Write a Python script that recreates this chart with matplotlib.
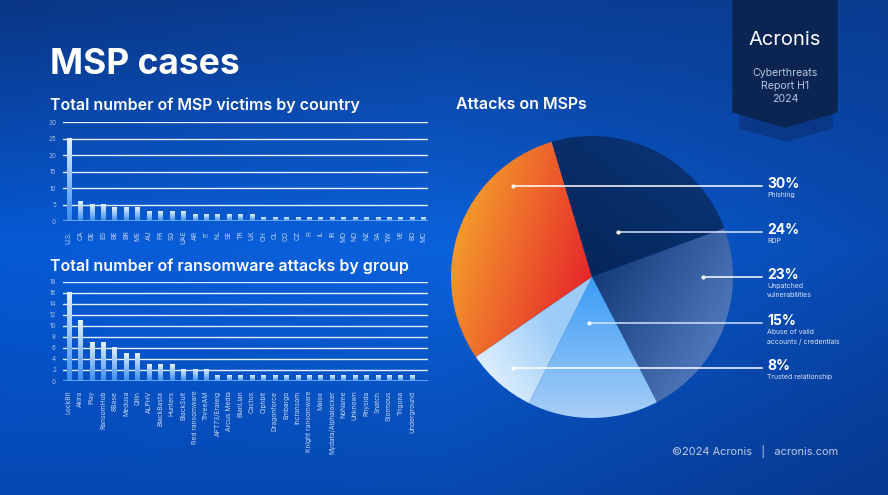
import numpy as np
import matplotlib
matplotlib.use("Agg")
import matplotlib.pyplot as plt
from matplotlib.colors import LinearSegmentedColormap, to_rgb
from matplotlib.patches import Polygon

plt.rcParams['font.family'] = ['Inter', 'DejaVu Sans']

# data
countries = ['U.S.', 'CA', 'DE', 'ES', 'BE', 'BR', 'ME', 'AU', 'FR', 'SG', 'UAE', 'AR', 'IT', 'NL',
             'SE', 'TR', 'UK', 'CH', 'CL', 'CO', 'CZ', 'FI', 'IL', 'IR', 'MO', 'NO', 'NZ', 'SA',
             'TW', 'VE', 'BO', 'MC']
victims = [25, 6, 5, 5, 4, 4, 4, 3, 3, 3, 3, 2, 2, 2, 2, 2, 2, 1, 1, 1, 1, 1, 1, 1, 1, 1, 1, 1,
           1, 1, 1, 1]

groups = ['LockBit', 'Akira', 'Play', 'RansomHub', '8Base', 'Medusa', 'Qilin', 'ALPHV',
          'BlackBasta', 'Hunters', 'BlackSuit', 'Red ransomware', 'ThreeAM', 'APT73/Eraleig',
          'Arcus Media', 'BianLian', 'Cactus', 'Ciphbit', 'Dragonforce', 'Embargo', 'Incransom',
          'Knight ransomware', 'Malox', 'Mydata/Alphalocker', 'NoName', 'Unknown', 'Rhysida',
          'Snatch', 'Stormous', 'Trigona', 'Underground']
attacks = [16, 11, 7, 7, 6, 5, 5, 3, 3, 3, 2, 2, 2, 1, 1, 1, 1, 1, 1, 1, 1, 1, 1, 1, 1, 1, 1,
           1, 1, 1, 1]

vectors = ['Phishing', 'RDP', 'Unpatched\nvulnerabilities', 'Abuse of valid\naccounts / credentials',
           'Trusted relationship']
shares = [30, 24, 23, 15, 8]

W, H = 888, 495
fig = plt.figure(figsize=(W / 100, H / 100), dpi=100)


def fx(x):
    return x / W


def fy(y):
    return 1 - y / H


# background gradient
bg = fig.add_axes([0, 0, 1, 1])
bg.set_axis_off()
grid = np.array([
    [to_rgb('#0a3684'), to_rgb('#0b3e94'), to_rgb('#0a3c90')],
    [to_rgb('#065ad6'), to_rgb('#0a62dc'), to_rgb('#084ab2')],
    [to_rgb('#0548b4'), to_rgb('#0749b0'), to_rgb('#07388e')],
])
yy, xx = np.mgrid[0:1:H * 1j, 0:1:W * 1j]
img = np.zeros((H, W, 3))
for c in range(3):
    g = grid[:, :, c]
    xi = xx * 2
    yi = yy * 2
    i0 = np.clip(np.floor(yi).astype(int), 0, 1)
    j0 = np.clip(np.floor(xi).astype(int), 0, 1)
    ty = yi - i0
    tx = xi - j0
    img[:, :, c] = (g[i0, j0] * (1 - tx) * (1 - ty) + g[i0, j0 + 1] * tx * (1 - ty)
                    + g[i0 + 1, j0] * (1 - tx) * ty + g[i0 + 1, j0 + 1] * tx * ty)
bg.imshow(img, extent=(0, W, H, 0), aspect='auto', zorder=0)
bg.set_xlim(0, W)
bg.set_ylim(H, 0)

# banner
bg.add_patch(Polygon([(740, 100), (832, 100), (832, 128), (786, 141), (740, 128)],
                     closed=True, color='#0a3786', zorder=1))
bg.add_patch(Polygon([(733, 0), (837, 0), (837, 112), (785, 127), (733, 112)],
                     closed=True, color='#0b2552', zorder=2))
fig.text(fx(785), fy(40), 'Acronis', color='white', fontsize=14.5, ha='center', va='center')
fig.text(fx(785), fy(86), 'Cyberthreats\nReport H1\n2024', color='#b8c6e4', fontsize=7.6,
         ha='center', va='center', linespacing=1.35)

# titles
fig.text(fx(50), fy(74), 'MSP cases', color='white', fontsize=25.5, fontweight='bold',
         ha='left', va='baseline')
fig.text(fx(50), fy(110), 'Total number of MSP victims by country', color='white',
         fontsize=11.5, fontweight='semibold', ha='left', va='baseline')
fig.text(fx(50), fy(271), 'Total number of ransomware attacks by group', color='white',
         fontsize=11.5, fontweight='semibold', ha='left', va='baseline')
fig.text(fx(456), fy(109), 'Attacks on MSPs', color='white', fontsize=11.5,
         fontweight='semibold', ha='left', va='baseline')
fig.text(fx(755), fy(452), '©2024 Acronis   |   acronis.com', color='#c0cce4', fontsize=7.9,
         ha='center', va='center')

bar_cmap = LinearSegmentedColormap.from_list('bar', ['#3a8cf0', '#8ec0fa', '#e4f0ff'])
grad = np.linspace(0, 1, 64).reshape(-1, 1)


def bar_panel(rect, labels, values, ymax, step):
    ax = fig.add_axes(rect)
    ax.set_facecolor('none')
    x = np.arange(len(values))
    bars = ax.bar(x, values, width=0.36, color='#5fa4f5', zorder=3)
    for b in bars:
        ax.imshow(grad, cmap=bar_cmap, origin='lower', aspect='auto', zorder=3,
                  extent=(b.get_x(), b.get_x() + b.get_width(), 0, b.get_height()))
    ax.set_xlim(-0.5, 31.4)
    ax.set_ylim(0, ymax)
    ax.set_yticks(np.arange(0, ymax + 1, step))
    for t in np.arange(step, ymax + 1, step):
        ax.axhline(t, color='white', lw=1.0, alpha=0.9, zorder=2)
    ax.axhline(0, color='#66a8f5', lw=1.4, zorder=4)
    ax.set_xticks(x)
    ax.set_xticklabels(labels, rotation=90, fontsize=4.8, color='#c8d6f0')
    ax.tick_params(axis='y', labelsize=4.6, labelcolor='#a9bfe6', length=0, pad=5)
    ax.tick_params(axis='x', length=0, pad=7)
    for s in ax.spines.values():
        s.set_visible(False)
    return ax


bar_panel([fx(63), fy(221), fx(428) - fx(63), fy(122.3) - fy(221)], countries, victims, 30, 5)
bar_panel([fx(63), fy(381), fx(428) - fx(63), fy(281.7) - fy(381)], groups, attacks, 18, 2)

# pie
cx, cy, r = 592, 277, 141
pax = fig.add_axes([fx(cx - r), fy(cy + r), fx(2 * r), (2 * r) / H])
wedges, _ = pax.pie(shares, startangle=214.6, counterclock=False, radius=1,
                    wedgeprops=dict(linewidth=0))

styles = [
    ((-1.0, 0.2), '#f49b2c', (0.0, -0.1), '#e5232a'),
    ((0.0, 0.0), '#05265a', (0.6, 0.8), '#0a3272'),
    ((0.0, 0.0), '#153a78', (0.9, -0.5), '#5079bd'),
    ((0.0, 0.0), '#3a9cf6', (0.0, -1.0), '#a8cef7'),
    ((-0.3, -0.3), '#9ccbf7', (-0.9, -0.7), '#eaf7ff'),
]
gy, gx = np.mgrid[1:-1:300j, -1:1:300j]
for w, (p0, c0, p1, c1) in zip(wedges, styles):
    d = np.array(p1) - np.array(p0)
    t = ((gx - p0[0]) * d[0] + (gy - p0[1]) * d[1]) / (d @ d)
    t = np.clip(t, 0, 1)[..., None]
    im = (1 - t) * np.array(to_rgb(c0)) + t * np.array(to_rgb(c1))
    w.set_facecolor('none')
    art = pax.imshow(im, extent=(-1, 1, -1, 1), zorder=1)
    art.set_clip_path(w)
pax.set_xlim(-1, 1)
pax.set_ylim(-1, 1)
pax.set_aspect('auto')
pax.set_axis_off()

# leader lines and labels on an overlay
ov = fig.add_axes([0, 0, 1, 1])
ov.set_axis_off()
ov.set_facecolor('none')
ov.set_xlim(0, W)
ov.set_ylim(H, 0)
line_y = [186, 231.7, 277, 323, 368]
line_x0 = [513, 618, 703, 589, 513]
line_c = ['white', '#d8e6fa', 'white', '#d0e2fa', 'white']
for i, (v, lab) in enumerate(zip(shares, vectors)):
    y = line_y[i]
    ov.plot([line_x0[i], 762], [y, y], color=line_c[i], lw=1.1, zorder=5)
    ov.plot([line_x0[i]], [y], 'o', color='white', ms=2, zorder=5)
    fig.text(fx(767), fy(y - 2), f'{v}%', color='white', fontsize=10, fontweight='bold',
             ha='left', va='center')
    fig.text(fx(767), fy(y + 6), lab, color='#d8e2f4', fontsize=5.0, ha='left', va='top',
             linespacing=1.55)

fig.savefig('out.png', dpi=100)
